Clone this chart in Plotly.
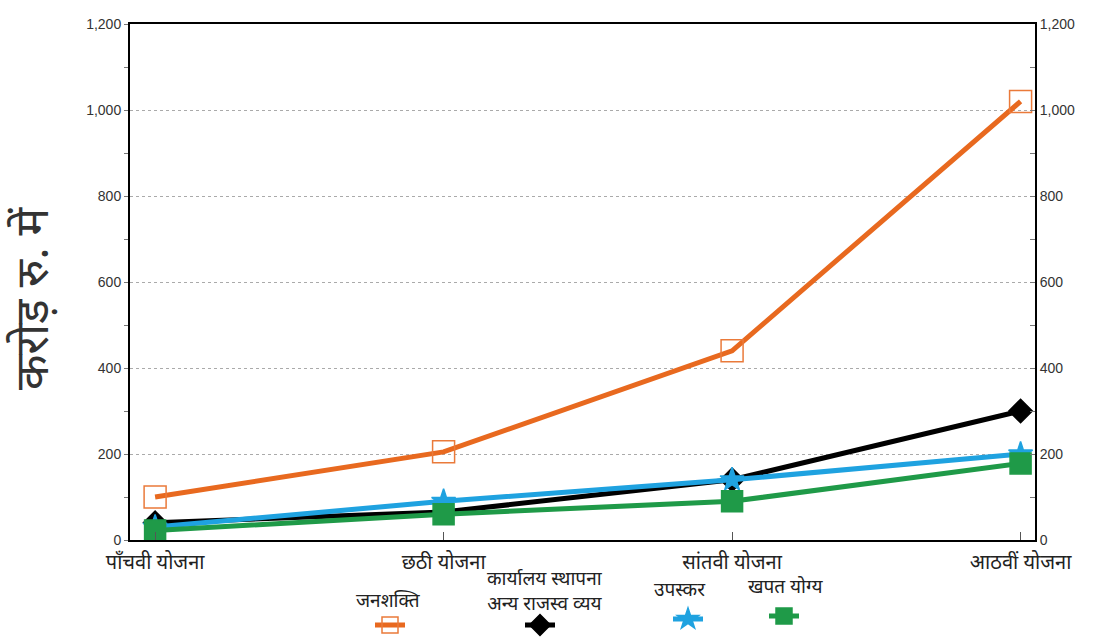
import plotly.graph_objects as go

categories = ["पाँचवी योजना", "छठी योजना", "सांतवी योजना", "आठवीं योजना"]
janshakti = [100, 205, 440, 1020]
karyalay = [40, 65, 140, 300]
upaskar = [30, 90, 140, 200]
khapat = [22, 60, 90, 178]
y_ticks = [0, 200, 400, 600, 800, 1000, 1200]
y_tick_text = ["0", "200", "400", "600", "800", "1,000", "1,200"]

series_names = ["जनशक्ति", "कार्यालय स्थापना<br>अन्य राजस्व व्यय", "उपस्कर", "खपत योग्य"]
y_title = "करोड़ रु. में"

xs = list(range(len(categories)))
HFONT = "Noto Sans, Noto Sans Devanagari, Lohit Devanagari, sans-serif"
W, H = 1093, 639

fig = go.Figure()

styles = [
    dict(data=janshakti, color="#e8691f", sym="square-open", size=22, mcol="#ea7a3a", lw=5),
    dict(data=karyalay, color="#000000", sym="diamond", size=18, mcol="#000000", lw=5),
    dict(data=upaskar, color="#1fa2e0", sym="star", size=18, mcol="#1fa2e0", lw=5),
    dict(data=khapat, color="#1f9a48", sym="square", size=21, mcol="#1f9a48", lw=5),
]

def cx(p):
    return p / W

def cy(p):
    return 1 - p / H

legend_sym = [(390, 625), (540, 625), (688, 619), (784, 616)]
title_pos = [(388, 600), (545, 590), (680, 589), (785, 586)]

for i, s in enumerate(styles):
    lname = "legend" if i == 0 else f"legend{i+1}"
    fig.add_trace(go.Scatter(
        x=xs, y=s["data"], mode="lines+markers", name="",
        line=dict(color=s["color"], width=s["lw"]),
        marker=dict(symbol=s["sym"], size=s["size"], color=s["mcol"],
                    line=dict(width=1.5, color=s["mcol"])),
        legend=lname, showlegend=True,
    ))

# invisible trace to drive the right axis
fig.add_trace(go.Scatter(x=xs, y=janshakti, yaxis="y2", mode="lines",
                         line=dict(width=0), opacity=0, showlegend=False, hoverinfo="skip"))

layout_legends = {}
for i, (sx, sy) in enumerate(legend_sym):
    lname = "legend" if i == 0 else f"legend{i+1}"
    layout_legends[lname] = dict(
        x=cx(sx - 20), y=cy(sy), xref="container", yref="container",
        xanchor="left", yanchor="middle", orientation="h",
        bgcolor="rgba(0,0,0,0)", itemwidth=30, font=dict(size=2),
    )

annotations = []
for i, (tx, ty) in enumerate(title_pos):
    annotations.append(dict(
        x=cx(tx), y=cy(ty), showarrow=False,
        text=f"<i>{series_names[i]}</i>", xanchor="center", yanchor="middle",
        font=dict(family=HFONT, size=19, color="#222"),
    ))
annotations.append(dict(
    x=cx(30), y=cy(299), showarrow=False,
    text=y_title, textangle=-90, xanchor="center", yanchor="middle",
    font=dict(family=HFONT, size=46, color="#333"),
))
# convert annotation coords from container fractions to paper fractions
L, R, T, B = 130, 58, 24, 99
pw, ph = W - L - R, H - T - B
for a in annotations:
    xpx = a["x"] * W
    ypx = (1 - a["y"]) * H
    a["x"] = (xpx - L) / pw
    a["y"] = (H - B - ypx) / ph
    a["xref"] = "paper"
    a["yref"] = "paper"

fig.update_layout(
    width=W, height=H,
    margin=dict(l=L, r=R, t=T, b=B, autoexpand=False),
    paper_bgcolor="white", plot_bgcolor="white",
    annotations=annotations,
    xaxis=dict(
        range=[-0.087, 3.05], tickvals=xs, automargin=False,
        ticktext=[f"<i>{c}</i>" for c in categories],
        tickfont=dict(family=HFONT, size=20, color="#222"),
        ticklabelstandoff=3,
        showgrid=False, zeroline=False, showline=True, linecolor="black", linewidth=2,
        mirror=True, ticks="inside", ticklen=8, tickcolor="#555",
    ),
    yaxis=dict(
        range=[0, 1200], tickvals=y_ticks, ticktext=y_tick_text, automargin=False,
        tickfont=dict(family="Liberation Sans, Arial, sans-serif", size=14, color="#333"),
        showgrid=True, gridcolor="#aaa", griddash="dot", gridwidth=1,
        zeroline=False, showline=True, linecolor="black", linewidth=2,
        ticks="outside", ticklen=4, tickcolor="#777",
        minor=dict(dtick=100, ticks="outside", ticklen=4, tickcolor="#777", showgrid=False),
    ),
    yaxis2=dict(
        overlaying="y", side="right", range=[0, 1200], tickvals=y_ticks, ticktext=y_tick_text,
        automargin=False,
        tickfont=dict(family="Liberation Sans, Arial, sans-serif", size=14, color="#333"),
        showgrid=False, zeroline=False, showline=True, linecolor="black", linewidth=2,
        ticks="inside", ticklen=5, tickcolor="#777",
        minor=dict(dtick=100, ticks="inside", ticklen=5, tickcolor="#777"),
    ),
    **layout_legends,
)

fig.write_html("out.html")
